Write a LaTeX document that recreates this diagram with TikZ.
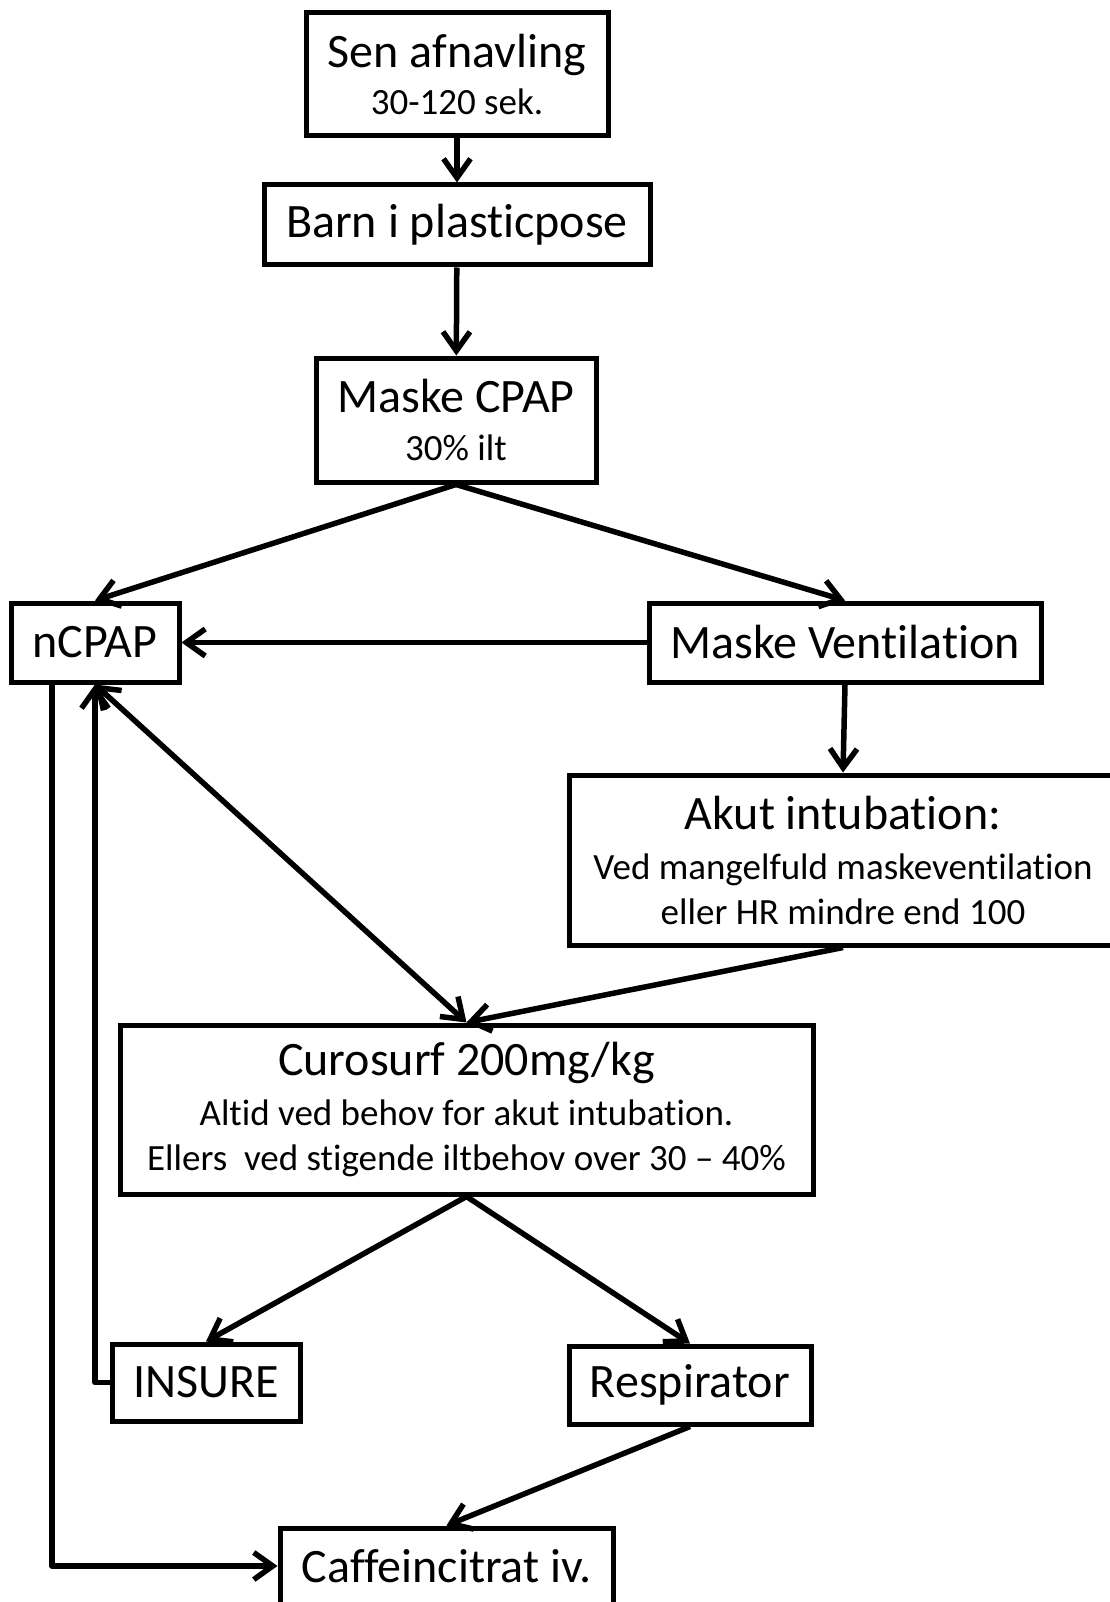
\documentclass[tikz,border=0pt]{standalone}
\usepackage{fontspec}
\setmainfont{Carlito}[RawFeature={-liga;-clig;-dlig;-calt;-ccmp}]
\usepackage{tikz}
\usetikzlibrary{arrows.meta, positioning, calc}
\newcommand{\hovedtxt}{\fontsize{48pt}{50pt}\selectfont}
\newcommand{\undertxt}{\fontsize{37pt}{44pt}\selectfont}
\tikzset{
  boks/.style={
    rectangle, draw=black, line width=5pt,
    inner sep=0pt, text centered, align=center,
    fill=white, font=\hovedtxt},
  pil/.style={-{Straight Barb[length=19pt,width=27pt]}, line width=5.5pt, line join=round},
  dobbeltpil/.style={{Straight Barb[length=19pt,width=27pt]}-{Straight Barb[length=19pt,width=27pt]}, line width=5.5pt},
}

\begin{document}
\begin{tikzpicture}[x=1pt, y=-1pt]
  \useasboundingbox (0,0) rectangle (1109,1602);

  \node[boks, minimum width=302, minimum height=123] (sen) at (457,74.5)
    {Sen afnavling\\[-3pt]{\undertxt 30-120 sek.}};
  \node[boks, minimum width=386, minimum height=80] (barn) at (457,225)
    {Barn i plasticpose};
  \node[boks, minimum width=280, minimum height=124] (cpap) at (456,420)
    {Maske CPAP\\[-2pt]{\undertxt 30\% ilt}};

  \node[boks, minimum width=168, minimum height=79] (ncpap) at (95,642.5) {nCPAP};
  \node[boks, minimum width=392, minimum height=79] (maskevent) at (845,642.5)
    {Maske Ventilation};

  \node[boks, minimum width=548, minimum height=170] (akut) at (843,860)
    {Akut intubation:\\[0pt]{\undertxt Ved mangelfuld maskeventilation}\\[-5pt]
     {\undertxt eller HR mindre end 100}};

  \node[boks, minimum width=693, minimum height=169] (curosurf) at (466.5,1109.5)
    {Curosurf 200mg/kg\\[0pt]{\undertxt Altid ved behov for akut intubation.}\\[-5pt]
     {\undertxt Ellers\ \ ved stigende iltbehov over 30 -- 40\%}};

  \node[boks, minimum width=188, minimum height=77] (insure) at (206,1382.5) {INSURE};
  \node[boks, minimum width=242, minimum height=78] (respirator) at (690,1385)
    {Respirator};
  \node[boks, minimum width=333, minimum height=76] (caffein) at (446.5,1566)
    {Caffeincitrat iv.};

  % forbindelser
  \draw[pil] (sen) -- (barn);
  \draw[pil] (barn) -- (cpap);
  \draw[pil] (cpap.south) -- (ncpap.north);
  \draw[pil] (cpap.south) -- (maskevent.north);
  \draw[pil] (maskevent.west) -- (ncpap.east);
  \draw[pil] (maskevent.south) -- (akut.north);
  \draw[dobbeltpil] (ncpap.south) -- (curosurf.north);
  \draw[pil] (akut.south) -- (curosurf.north);
  \draw[pil] (curosurf.south) -- (insure.north);
  \draw[pil] (curosurf.south) -- (respirator.north);
  \draw[pil] (insure.west) -| (ncpap.south);
  \draw[pil] ($(ncpap.south west)!0.25!(ncpap.south east)$) |- (caffein.west);
  \draw[pil] (respirator.south) -- (caffein.north);

\end{tikzpicture}
\end{document}
